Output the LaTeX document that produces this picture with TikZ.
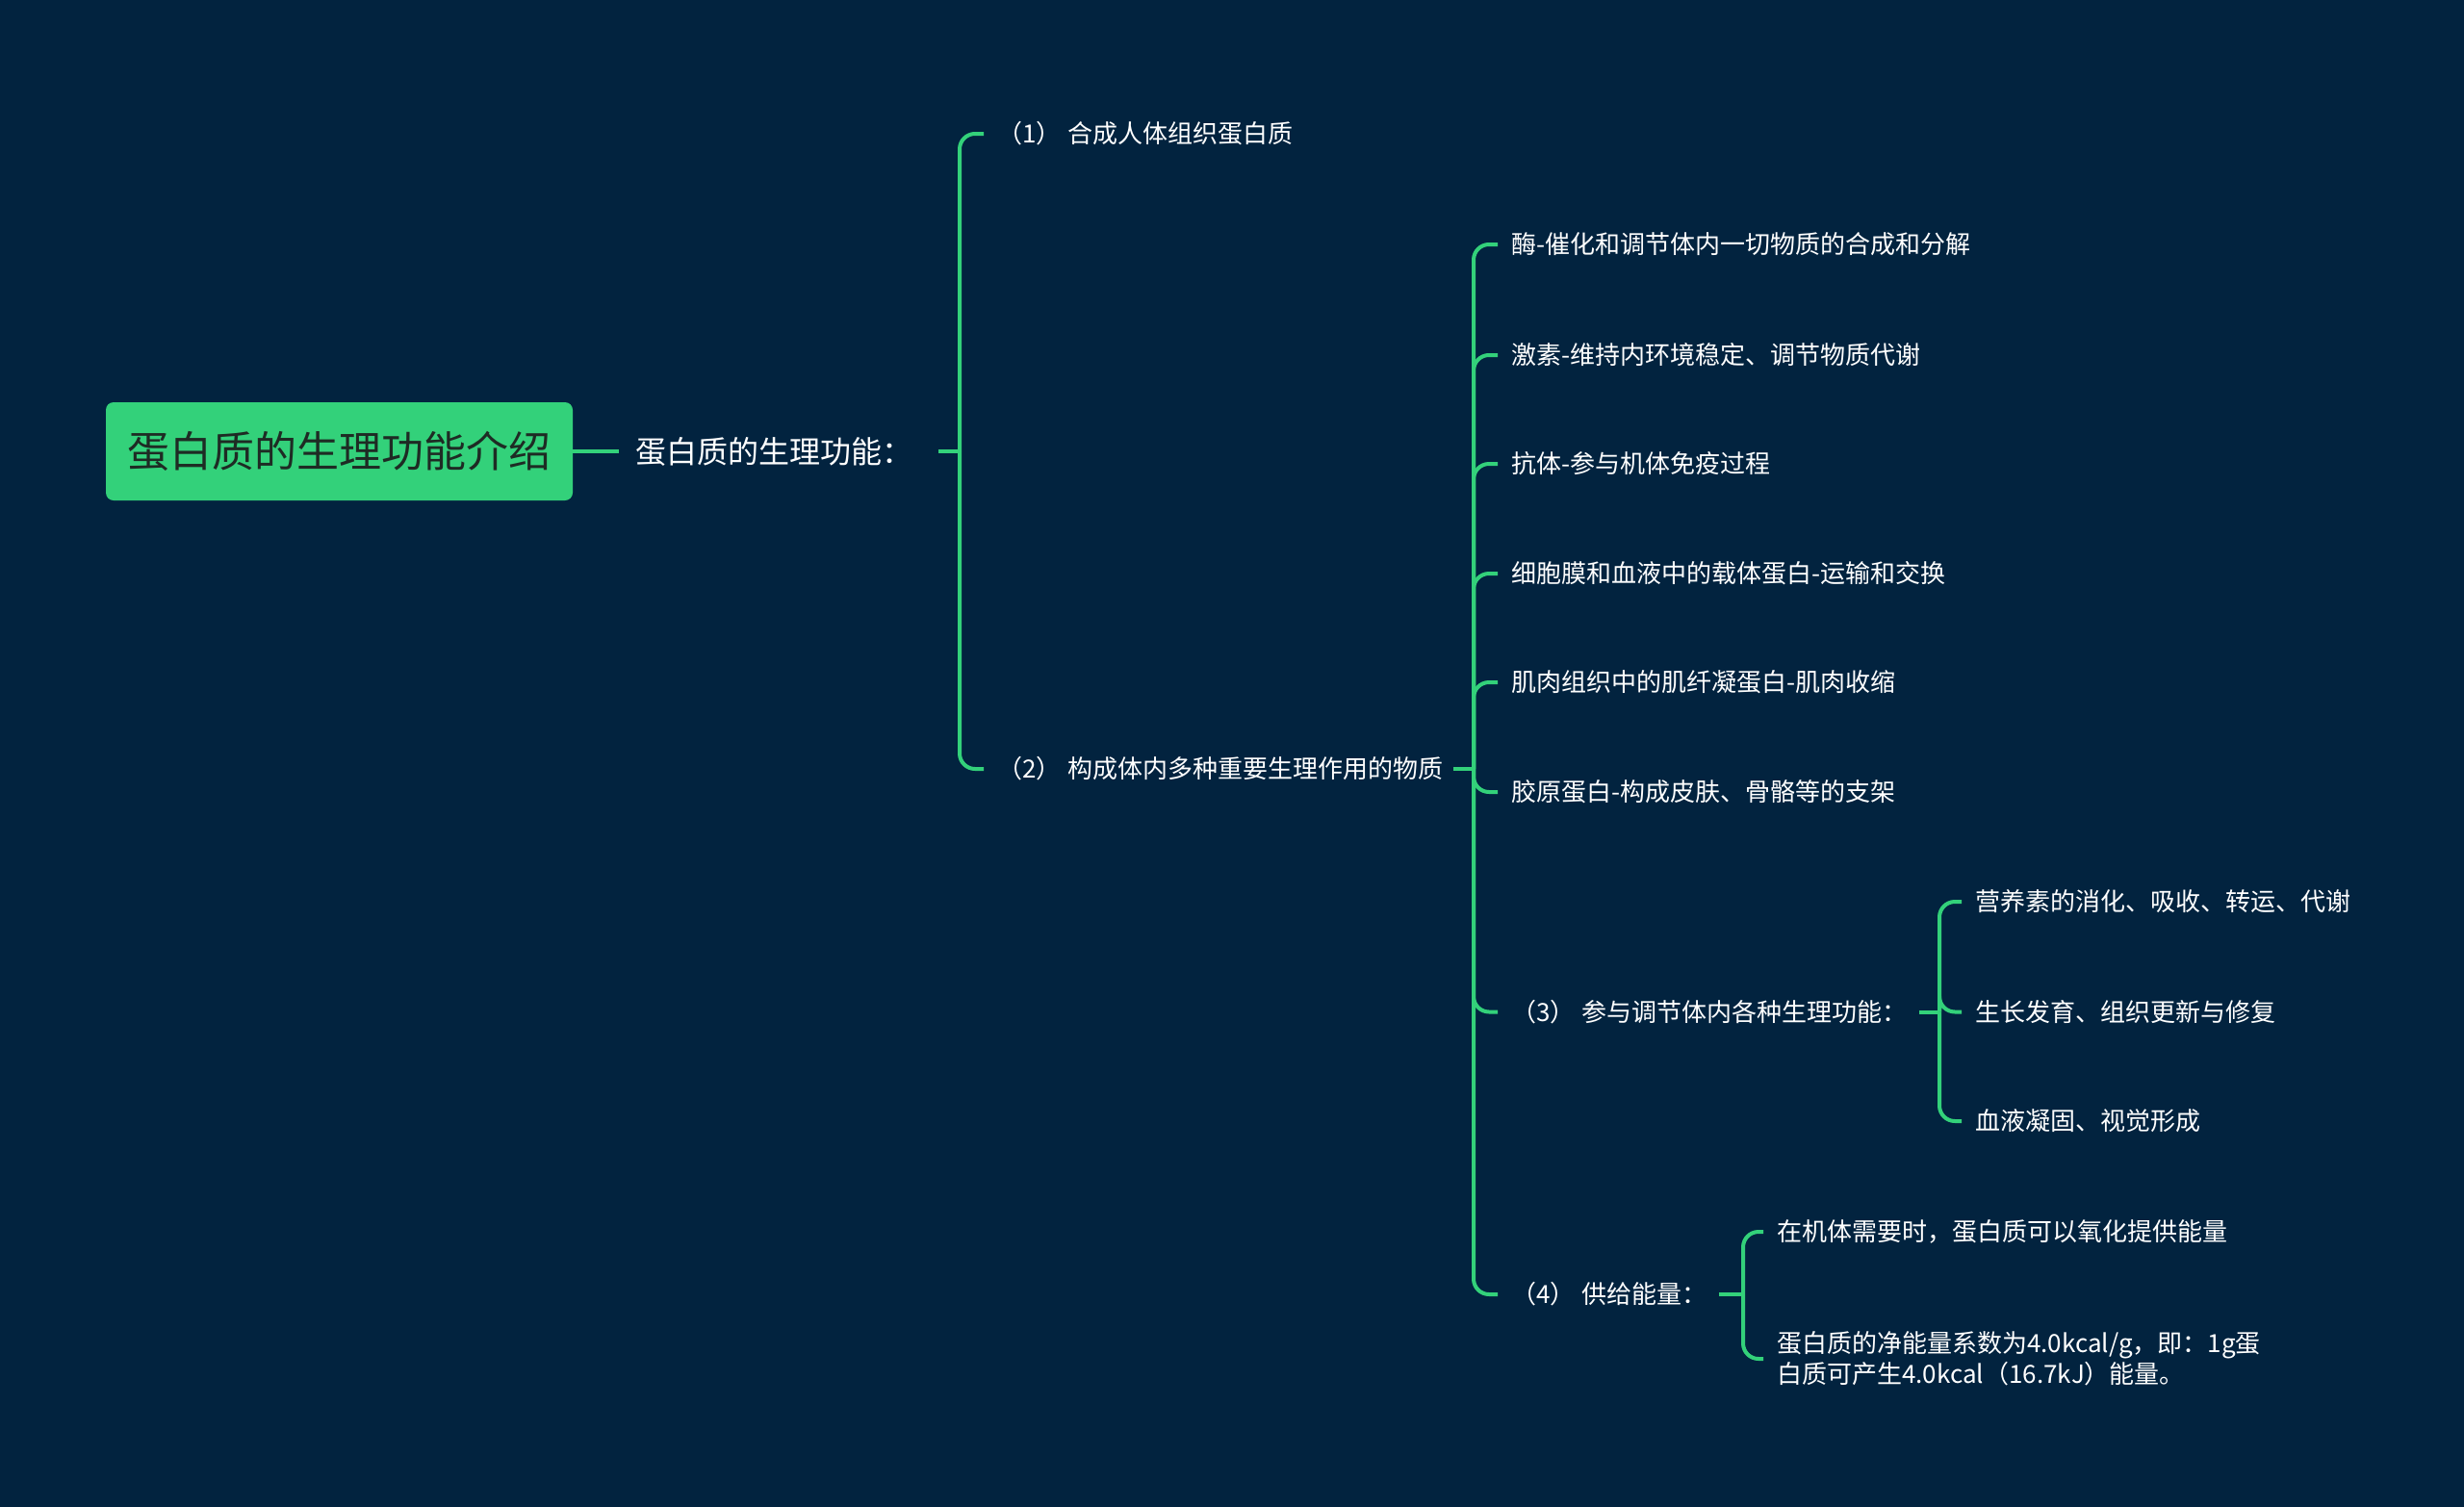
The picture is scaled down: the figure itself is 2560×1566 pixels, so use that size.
\documentclass[tikz,border=0pt]{standalone}
\usepackage{fontspec}
\newfontfamily\cjk{Noto Sans CJK SC}
\usetikzlibrary{calc}
\definecolor{bgc}{HTML}{02233F}
\definecolor{grn}{HTML}{33D17A}
\definecolor{rootTxt}{HTML}{1E2B24}
\newcommand{\pgap}{\hspace{7pt}}
\tikzset{
  txt/.style={anchor=west, inner sep=0pt, text=white, font=\cjk\fontsize{26}{32}\selectfont},
  conn/.style={draw=grn, line width=4pt},
  brk/.style={conn, rounded corners=16pt},
}
\begin{document}
\begin{tikzpicture}[x=1pt,y=-1pt]
\fill[bgc] (0,0) rectangle (2560,1566);
\useasboundingbox (0,0) rectangle (2560,1566);

% root
\node[fill=grn, rounded corners=8pt, minimum width=485pt, minimum height=102pt, inner sep=0pt,
      text=rootTxt, font=\cjk\fontsize{44}{50}\selectfont] (root) at (352.5,469) {蛋白质的生理功能介绍};
\node[txt, font=\cjk\fontsize{32}{38}\selectfont] (L1) at (660,469) {蛋白质的生理功能：};

% level 2
\node[txt] (n1) at (1036,139) {（1）\pgap 合成人体组织蛋白质};
\node[txt] (n2) at (1036,799) {（2）\pgap 构成体内多种重要生理作用的物质};

% level 3
\node[txt] (a1) at (1570,254) {酶-催化和调节体内一切物质的合成和分解};
\node[txt] (a2) at (1570,369) {激素-维持内环境稳定、调节物质代谢};
\node[txt] (a3) at (1570,482) {抗体-参与机体免疫过程};
\node[txt] (a4) at (1570,596) {细胞膜和血液中的载体蛋白-运输和交换};
\node[txt] (a5) at (1570,709) {肌肉组织中的肌纤凝蛋白-肌肉收缩};
\node[txt] (a6) at (1570,823) {胶原蛋白-构成皮肤、骨骼等的支架};
\node[txt] (a7) at (1570,1051.5) {（3）\pgap 参与调节体内各种生理功能：};
\node[txt] (a8) at (1570,1345) {（4）\pgap 供给能量：};

% level 4
\node[txt] (c1) at (2052,937) {营养素的消化、吸收、转运、代谢};
\node[txt] (c2) at (2052,1051.5) {生长发育、组织更新与修复};
\node[txt] (c3) at (2052,1165) {血液凝固、视觉形成};
\node[txt] (d1) at (1846,1280) {在机体需要时，蛋白质可以氧化提供能量};
\node[txt, align=left] (d2) at (1846,1412) {蛋白质的净能量系数为4.0kcal/g，即：1g蛋\\白质可产生4.0kcal（16.7kJ）能量。};

% bracket junctions
\coordinate (b1) at (997,469);
\coordinate (b2) at (1531,799);
\coordinate (b3) at (2015,1051.5);
\coordinate (b4) at (1811,1345);

% connectors
\draw[conn] (root.east) -- ($(L1.west)+(-17,0)$);

\draw[conn] ($(L1.east)+(27,0)$) -- (b1);
\foreach \c in {n1,n2} \draw[brk] (b1) |- ($(\c.west)+(-14,0)$);

\draw[conn] ($(n2.east)+(10,0)$) -- (b2);
\foreach \c in {a1,a2,a3,a4,a5,a6,a7,a8} \draw[brk] (b2) |- ($(\c.west)+(-14,0)$);

\draw[conn] ($(a7.east)+(12,0)$) -- (b3);
\foreach \c in {c1,c2,c3} \draw[brk] (b3) |- ($(\c.west)+(-14,0)$);

\draw[conn] ($(a8.east)+(12,0)$) -- (b4);
\foreach \c in {d1,d2} \draw[brk] (b4) |- ($(\c.west)+(-14,0)$);
\end{tikzpicture}
\end{document}
